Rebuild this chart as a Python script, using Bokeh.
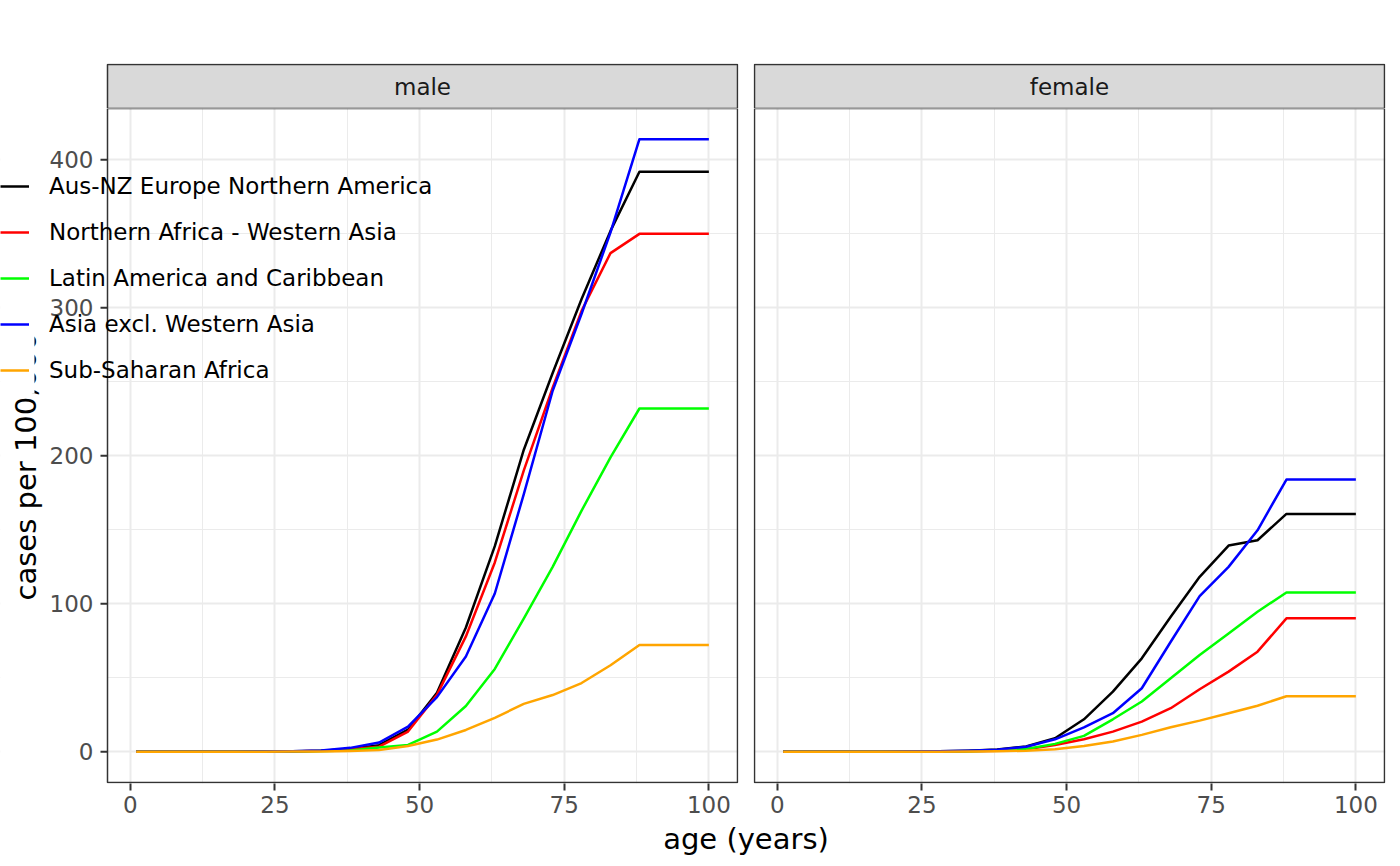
import math
from bokeh.plotting import figure
from bokeh.models import Range1d, FixedTicker, Legend, LegendItem, Label, BoxAnnotation
from bokeh.core.properties import value
from bokeh.layouts import row, column
from bokeh.embed import file_html
from bokeh.resources import INLINE

FONT = "DejaVu Sans"

age = [1, 3, 8, 13, 18, 23, 28, 33, 38, 43, 48, 53, 58, 63, 68, 73, 78, 83, 88, 100]
regions = ["Aus-NZ Europe Northern America", "Northern Africa - Western Asia",
           "Latin America and Caribbean", "Asia excl. Western Asia", "Sub-Saharan Africa"]
colors = ["black", "#FF0000", "#00FF00", "#0000FF", "#FFA500"]

male_ausnz = [0, 0, 0, 0.1, 0.1, 0.2, 0.4, 0.8, 2.0, 4.5, 15, 40, 84, 139, 204, 256, 306, 352, 392, 392]
male_nafr = [0, 0, 0, 0.1, 0.1, 0.2, 0.3, 0.7, 1.8, 3.5, 13.7, 38.5, 78, 128, 190, 246, 298, 337, 350, 350]
male_latam = [0, 0, 0, 0.1, 0.1, 0.2, 0.3, 0.5, 1.0, 2.9, 4.7, 13.7, 31, 56, 90, 125, 163, 199, 232, 232]
male_asia = [0, 0, 0, 0.1, 0.1, 0.2, 0.4, 0.9, 2.7, 6.3, 17, 37, 64.5, 107, 174, 244, 296, 351, 414, 414]
male_ssa = [0, 0, 0, 0, 0.1, 0.1, 0.2, 0.3, 0.6, 1.3, 4, 8.3, 14.8, 23, 32.4, 38.4, 46.5, 58.5, 72.2, 72.2]

female_ausnz = [0, 0, 0, 0, 0.1, 0.2, 0.4, 0.8, 1.6, 3.6, 9.2, 22, 40.7, 63.2, 91.3, 118.3, 139.4, 143, 160.8, 160.8]
female_nafr = [0, 0, 0, 0, 0.1, 0.1, 0.2, 0.4, 0.8, 1.8, 4.7, 8.5, 13.7, 20.4, 29.5, 42.3, 54.2, 67.7, 90.2, 90.2]
female_latam = [0, 0, 0, 0, 0.1, 0.1, 0.2, 0.4, 0.9, 2, 5.4, 10.8, 22, 34, 49.7, 65.4, 80, 94.7, 107.7, 107.7]
female_asia = [0, 0, 0, 0, 0.1, 0.2, 0.4, 0.8, 1.5, 3.5, 8.5, 16.6, 26.1, 43, 74.4, 105.2, 125, 149.7, 184, 184]
female_ssa = [0, 0, 0, 0, 0, 0.1, 0.1, 0.2, 0.4, 0.8, 1.8, 4, 7, 11.5, 16.6, 21.1, 26.1, 31.2, 37.6, 37.6]

male = [male_ausnz, male_nafr, male_latam, male_asia, male_ssa]
female = [female_ausnz, female_nafr, female_latam, female_asia, female_ssa]

x_ticks = [0, 25, 50, 75, 100]
x_minor = [12.5, 37.5, 62.5, 87.5]
y_ticks = [0, 100, 200, 300, 400]
y_tick_labels = ["0", "100", "200", "300", "400"]
y_minor = [50, 150, 250, 350]

# ---- layout constants (pixels) ----
X0, X1 = -3.95, 104.95
Y0, Y1 = -20.7, 434.7
PANEL_L = 107          # left edge of the male panel
GAP = 17               # gap between panels
FRAME_W, FRAME_H = 630, 674
STRIP_TOP, STRIP_H = 64, 44
PANEL_T = STRIP_TOP + STRIP_H
SX = FRAME_W / (X1 - X0)
SY = FRAME_H / (Y1 - Y0)
X_START = X0 - PANEL_L / SX   # left figure's frame starts at the page edge
BORDER = "#333333"
BORDER_W = 1.5

# each figure's frame: (x start, x end, frame width, right border)
LEFT_X = (X_START, X1 + 1 / SX, PANEL_L + FRAME_W + 1, GAP - 2)
RIGHT_X = (X0 - 1 / SX, X1 + 1 / SX, FRAME_W + 2, 8)


def xd(px):
    return X_START + px / SX


def yd(py):
    return Y1 - (py - PANEL_T) / SY


def white_box(**kw):
    return BoxAnnotation(fill_color="white", fill_alpha=1, line_alpha=0, **kw)


def make_strip(text, spec):
    xs, xe, fw, rb = spec
    s = figure(frame_width=fw, frame_height=STRIP_H + 1,
               x_range=Range1d(xs, xe), y_range=Range1d(0, STRIP_H + 1),
               min_border_left=0, min_border_right=rb,
               min_border_top=STRIP_TOP - 1, min_border_bottom=0,
               x_axis_location=None, y_axis_location=None,
               toolbar_location=None, output_backend="svg",
               background_fill_color="white", border_fill_color="white",
               outline_line_color=None)
    s.grid.visible = False
    s.add_layout(BoxAnnotation(left=X0, right=X1, bottom=0, top=STRIP_H,
                               fill_color="#D9D9D9", fill_alpha=1,
                               line_color=BORDER, line_alpha=1, line_width=BORDER_W))
    s.add_layout(Label(x=(X0 + X1) / 2, y=STRIP_H / 2, text=text,
                       text_align="center", text_baseline="middle",
                       text_font_size="23px", text_color="#1A1A1A", text_font=FONT))
    return s


def make_panel(series, spec, left):
    xs, xe, fw, rb = spec
    p = figure(frame_width=fw, frame_height=FRAME_H + 1,
               x_range=Range1d(xs, xe), y_range=Range1d(Y0 - 1 / SY, Y1),
               min_border_left=0, min_border_right=rb,
               min_border_top=0, min_border_bottom=37,
               y_axis_location=None,
               toolbar_location=None, output_backend="svg",
               background_fill_color="white", border_fill_color="white",
               outline_line_color=None)
    p.xgrid.ticker = FixedTicker(ticks=x_ticks, minor_ticks=x_minor)
    p.ygrid.ticker = FixedTicker(ticks=y_ticks, minor_ticks=y_minor)
    for g in (p.xgrid, p.ygrid):
        g.grid_line_color = "#EBEBEB"
        g.grid_line_width = 2
        g.minor_grid_line_color = "#EBEBEB"
        g.minor_grid_line_width = 1

    ax = p.xaxis[0]
    ax.ticker = FixedTicker(ticks=x_ticks, minor_ticks=x_minor)
    ax.axis_line_color = None
    ax.major_tick_line_color = BORDER
    ax.major_tick_line_width = 2
    ax.major_tick_out = 7
    ax.major_tick_in = 0
    ax.minor_tick_line_color = None
    ax.major_label_text_font = FONT
    ax.major_label_text_font_size = "23px"
    ax.major_label_text_color = "#4D4D4D"
    ax.major_label_standoff = 5

    # white margins outside the panel (hide grid lines there)
    p.add_layout(white_box(right=X0, level="underlay"))
    p.add_layout(white_box(left=X1, level="underlay"))
    p.add_layout(white_box(top=Y0, level="underlay"))

    if left:
        # y axis ticks and tick labels, left of the panel
        p.segment(x0=[xd(PANEL_L - 7)] * len(y_ticks), y0=y_ticks,
                  x1=[X0] * len(y_ticks), y1=y_ticks,
                  line_color=BORDER, line_width=2)
        p.text(x=[xd(PANEL_L - 14)] * len(y_ticks), y=y_ticks, text=y_tick_labels,
               text_align="right", text_baseline="middle",
               text_font=value(FONT), text_font_size="23px", text_color="#4D4D4D")

    rends = []
    for vals, col in zip(series, colors):
        r = p.line(age, vals, line_color=col, line_width=2.5, line_join="round")
        rends.append(r)

    # panel border
    p.add_layout(BoxAnnotation(left=X0, right=X1, bottom=Y0, top=Y1, fill_alpha=0,
                               line_color=BORDER, line_alpha=1, line_width=BORDER_W))
    return p, rends


s_m = make_strip("male", LEFT_X)
s_f = make_strip("female", RIGHT_X)
p_m, rends_m = make_panel(male, LEFT_X, True)
p_f, _ = make_panel(female, RIGHT_X, False)

# y axis title (drawn from the bottom upwards, partly hidden by the legend keys)
p_m.add_layout(Label(x=xd(25), y=yd(600), text="cases per 100,000", angle=math.pi / 2,
                     text_align="left", text_baseline="alphabetic",
                     text_font=FONT, text_font_size="29px", text_color="black"))
# white legend-key backgrounds
LEG_TOP, ROW_H, N = 163, 46, len(regions)
p_m.add_layout(white_box(right=xd(34), top=yd(LEG_TOP), bottom=yd(LEG_TOP + ROW_H * N)))

legend = Legend(items=[LegendItem(label=lab, renderers=[r]) for lab, r in zip(regions, rends_m)],
                location=(0, PANEL_T + FRAME_H + 1 - (LEG_TOP + ROW_H * N)), orientation="vertical",
                glyph_width=29, glyph_height=ROW_H, label_height=ROW_H, label_standoff=20,
                spacing=0, padding=0, margin=0,
                background_fill_alpha=0, border_line_alpha=0,
                label_text_font=FONT, label_text_font_size="23px", label_text_color="black")
p_m.add_layout(legend)

# x axis title, centred under both panels
t = figure(frame_width=2 * FRAME_W + GAP, frame_height=1,
           x_range=Range1d(0, 1), y_range=Range1d(0, 1),
           min_border_left=PANEL_L, min_border_right=8, min_border_top=0, min_border_bottom=0,
           y_axis_location=None, toolbar_location=None, output_backend="svg",
           outline_line_color=None, background_fill_color="white", border_fill_color="white")
t.grid.visible = False
ta = t.xaxis[0]
ta.ticker = FixedTicker(ticks=[])
ta.axis_line_color = None
ta.major_tick_line_color = None
ta.minor_tick_line_color = None
ta.major_tick_out = 0
ta.major_label_standoff = 0
ta.axis_label = "age (years)"
ta.axis_label_standoff = 0
ta.axis_label_text_font = FONT
ta.axis_label_text_font_size = "29px"
ta.axis_label_text_font_style = "normal"
ta.axis_label_text_color = "black"

layout = column(row(column(s_m, p_m, spacing=0), column(s_f, p_f, spacing=0), spacing=0), t, spacing=0)

open("out.html", "w").write(file_html(layout, INLINE))
